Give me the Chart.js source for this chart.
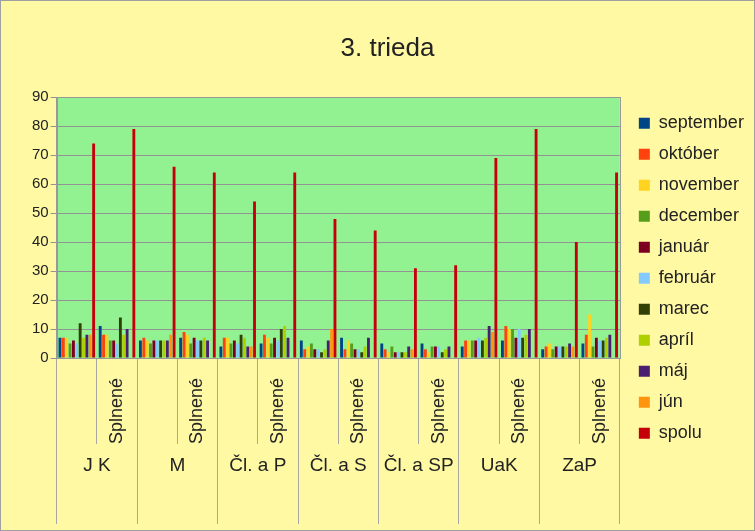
<!DOCTYPE html>
<html>
<head>
<meta charset="utf-8">
<title>3. trieda</title>
<script src="https://cdn.jsdelivr.net/npm/chart.js"></script>
<style>
  body { margin: 0; }
  #wrap { width: 755px; height: 531px; box-sizing: border-box; border: 1px solid #a0a0a0; background: #fff9a3; }
</style>
</head>
<body>
<div id="wrap"><canvas id="chart"></canvas></div>
<script>
// predmety (vonkajšia úroveň osi x) a podkategórie (vnútorná úroveň)
const subjects = ['J K', 'M', 'Čl. a P', 'Čl. a S', 'Čl. a SP', 'UaK', 'ZaP'];
const categories = ['', 'Splnené', '', 'Splnené', '', 'Splnené', '', 'Splnené',
                    '', 'Splnené', '', 'Splnené', '', 'Splnené'];
const yTicks = [0, 90, 10]; // min, max, krok

const months = ['september', 'október', 'november', 'december', 'január', 'február',
                'marec', 'apríl', 'máj', 'jún', 'spolu'];
const colors = ['#004586', '#ff420e', '#ffd320', '#579d1c', '#7e0021', '#83caff',
                '#314004', '#aecf00', '#4b1f6f', '#ff950e', '#c5000b'];

const september = [7, 11, 6, 7, 4, 5, 6, 7, 5, 5, 4, 6, 3, 5];
const oktober   = [7, 8, 7, 9, 7, 8, 3, 3, 3, 3, 6, 11, 4, 8];
const november  = [7, 8, 6, 8, 7, 7, 4, 6, 2, 2, 6, 10, 5, 15];
const december  = [5, 6, 5, 5, 5, 5, 5, 5, 4, 4, 6, 10, 3, 4];
const januar    = [6, 6, 6, 7, 6, 7, 3, 3, 2, 4, 6, 7, 4, 7];
const februar   = [5, 5, 6, 6, 5, 6, 3, 3, 2, 4, 7, 10, 4, 6];
const marec     = [12, 14, 6, 6, 8, 10, 2, 2, 2, 2, 6, 7, 4, 6];
const april     = [7, 8, 6, 7, 7, 11, 3, 4, 2, 3, 7, 8, 4, 7];
const maj       = [8, 10, 6, 6, 4, 7, 6, 7, 4, 4, 11, 10, 5, 8];
const jun       = [8, null, 8, null, 4, null, 10, null, 3, null, 9, null, 4, null];
const spolu     = [74, 79, 66, 64, 54, 64, 48, 44, 31, 32, 69, 79, 40, 64];

const series = [september, oktober, november, december, januar, februar,
                marec, april, maj, jun, spolu];

Chart.defaults.font.family = "'Liberation Sans', Arial, sans-serif";
Chart.defaults.color = '#222';

// zelené pozadie a rámik oblasti grafu
const plotBackground = {
  id: 'plotBackground',
  beforeDraw(chart) {
    const {ctx, chartArea: a} = chart;
    ctx.save();
    ctx.fillStyle = '#92f292';
    ctx.fillRect(a.left, a.top, a.width, a.height);
    ctx.restore();
  },
  afterDatasetsDraw(chart) {
    const {ctx, chartArea: a} = chart;
    ctx.save();
    ctx.strokeStyle = '#999';
    ctx.lineWidth = 1;
    ctx.strokeRect(Math.round(a.left) + 0.5, Math.round(a.top) + 0.5,
                   Math.round(a.width), Math.round(a.height));
    ctx.restore();
  }
};

new Chart(document.getElementById('chart'), {
  type: 'bar',
  data: {
    labels: categories,
    datasets: months.map((m, i) => ({
      label: m,
      data: series[i],
      backgroundColor: colors[i],
      borderWidth: 0,
      xAxisID: 'x',
      yAxisID: 'y',
      categoryPercentage: 0.92,
      barPercentage: 0.85
    }))
  },
  options: {
    responsive: true,
    maintainAspectRatio: false,
    animation: false,
    layout: { padding: { top: 20, left: 29, right: 9, bottom: 53 } },
    plugins: {
      title: {
        display: true,
        text: '3. trieda',
        font: { size: 26, weight: 'normal' },
        padding: { top: 12, bottom: 33 }
      },
      legend: {
        position: 'right',
        align: 'start',
        // prázdny titulok len posúva položky legendy nadol
        title: { display: true, text: '', font: { size: 1 }, padding: { top: 79, bottom: 0 } },
        labels: { boxWidth: 11, boxHeight: 11, padding: 13, font: { size: 18 } }
      },
      tooltip: { enabled: false }
    },
    scales: {
      y: {
        min: yTicks[0],
        max: yTicks[1],
        ticks: { stepSize: yTicks[2], padding: 2, font: { size: 15 } },
        grid: { color: '#939393', tickLength: 6 },
        border: { color: '#999' }
      },
      y2: {
        position: 'right',
        grid: { display: false },
        ticks: { display: false },
        border: { display: false },
        afterFit: s => { s.width = 6; }
      },
      x: {
        type: 'category',
        position: 'bottom',
        offset: true,
        grid: { drawOnChartArea: false, offset: true, tickLength: 86, color: '#a8a8a0' },
        border: { color: '#999' },
        ticks: { autoSkip: false, minRotation: 90, maxRotation: 90, padding: -66, font: { size: 18 } },
        afterFit: s => { s.height = 86; }
      },
      x2: {
        type: 'category',
        labels: subjects,
        position: 'bottom',
        offset: true,
        grid: { drawOnChartArea: false, offset: true, tickLength: 80, color: '#a8a8a0' },
        border: { display: false },
        ticks: { autoSkip: false, padding: -70, font: { size: 19 } },
        afterFit: s => { s.height = 33; }
      }
    }
  },
  plugins: [plotBackground]
});
</script>
</body>
</html>
